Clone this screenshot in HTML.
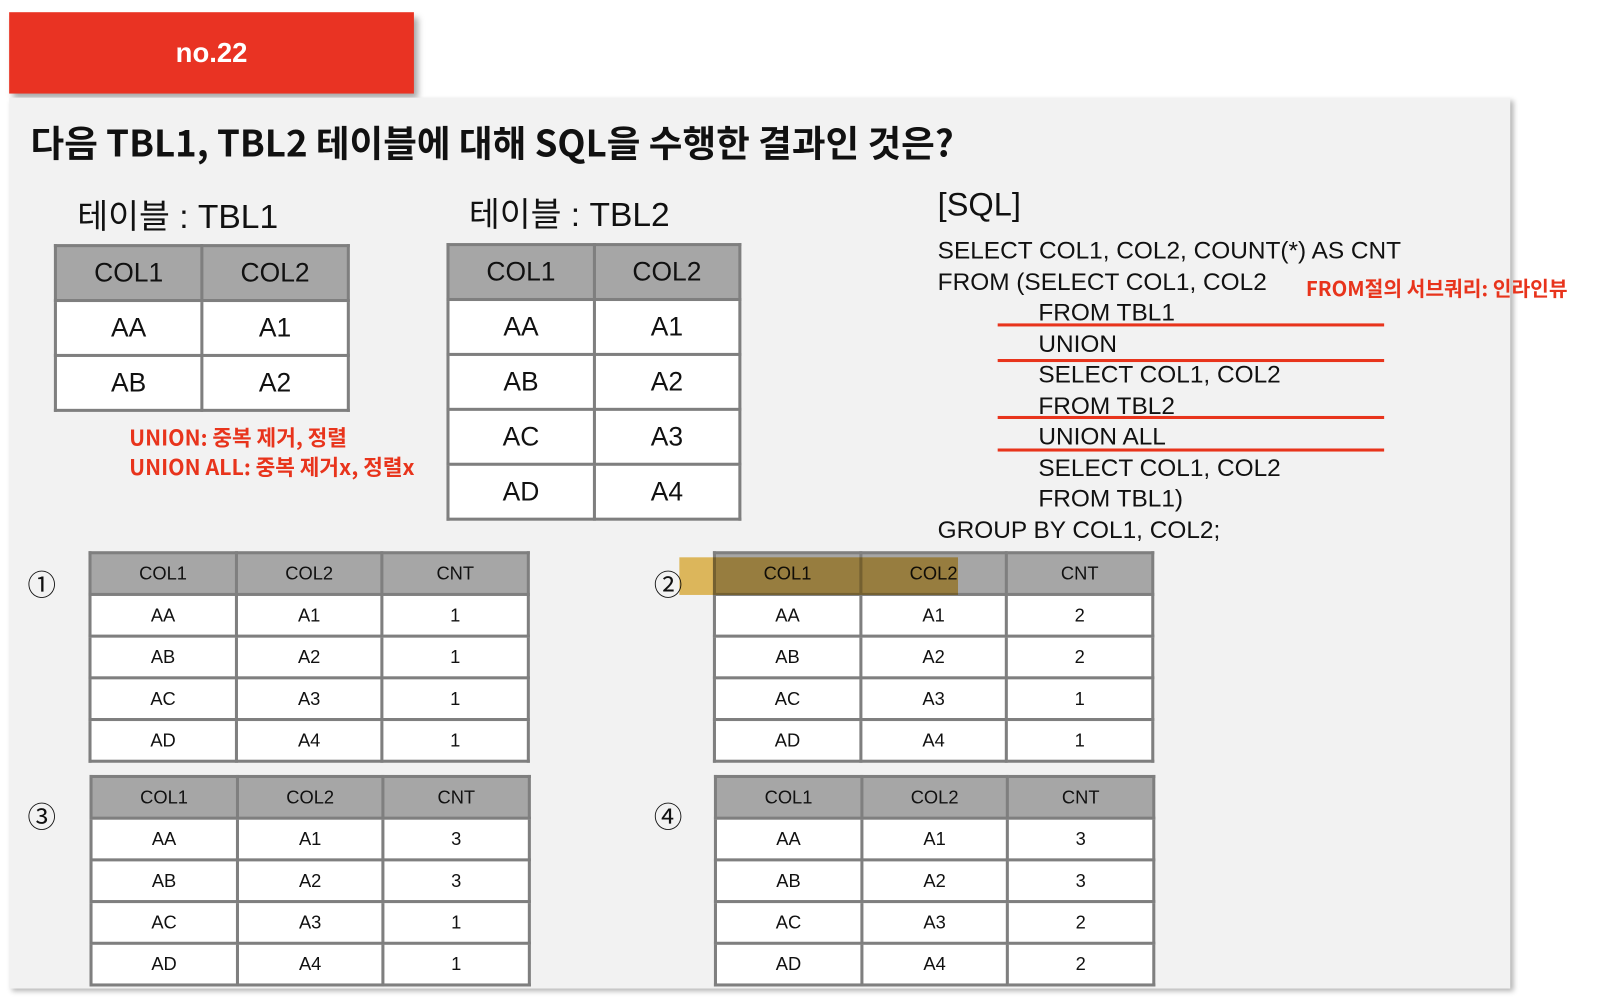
<!DOCTYPE html>
<html><head><meta charset="utf-8">
<style>
html,body{margin:0;padding:0;background:#fff;width:1598px;height:1000px;overflow:hidden;font-family:"Liberation Sans","Noto Sans CJK KR",sans-serif;}
#wrap{position:absolute;left:0;top:0;width:1571px;height:983px;transform:scale(1.017);transform-origin:0 0;}
.abs{position:absolute;}
#badge{left:9px;top:12px;width:398px;height:80px;background:#e93323;box-shadow:4px 5px 6px rgba(0,0,0,.35);color:#fff;font-weight:bold;font-size:27px;display:flex;align-items:center;justify-content:center;}
#panel{left:9px;top:96px;width:1476px;height:876px;background:#f2f2f2;box-shadow:3px 3px 5px rgba(0,0,0,.3);}
.title{left:30px;top:113px;font-size:36px;font-weight:bold;color:#111;white-space:nowrap;font-family:"Noto Sans CJK KR","Liberation Sans",sans-serif;}
.cap{font-size:33px;color:#111;white-space:nowrap;}
table{position:absolute;border-collapse:collapse;table-layout:fixed;}
td{border:3px solid #7f7f7f;text-align:center;color:#111;padding:0;background:#fff;}
tr.h td{background:#a6a6a6;}
.sql{font-size:24px;color:#111;white-space:nowrap;line-height:30.5px;}
.red{color:#e8341c;font-weight:bold;white-space:nowrap;font-family:"Noto Sans CJK KR","Liberation Sans",sans-serif;}
.rl{position:absolute;left:981px;width:380px;height:3px;background:#e8341c;}
.num{font-size:28px;color:#111;}
</style></head><body>
<div id="wrap">
<div id="badge" class="abs">no.22</div>
<div id="panel" class="abs"></div>
<div class="abs title">다음 TBL1, TBL2 테이블에 대해 SQL을 수행한 결과인 것은?</div>
<div class="abs cap" style="left:76px;top:186px">테이블 : TBL1</div>
<div class="abs cap" style="left:461px;top:184px">테이블 : TBL2</div>
<div class="abs red" style="left:127px;top:416px;font-size:21px;line-height:29px">UNION: 중복 제거, 정렬<br>UNION ALL: 중복 제거x, 정렬x</div>
<div class="abs" style="left:922px;top:183px;font-size:32px;color:#111">[SQL]</div>
<div class="abs sql" style="left:922px;top:232px">SELECT COL1, COL2, COUNT(*) AS CNT<br>FROM (SELECT COL1, COL2<br><span style="padding-left:99px">FROM TBL1</span><br><span style="padding-left:99px">UNION</span><br><span style="padding-left:99px">SELECT COL1, COL2</span><br><span style="padding-left:99px">FROM TBL2</span><br><span style="padding-left:99px">UNION ALL</span><br><span style="padding-left:99px">SELECT COL1, COL2</span><br><span style="padding-left:99px">FROM TBL1)</span><br>GROUP BY COL1, COL2;</div>
<div class="rl" style="top:318px"></div>
<div class="rl" style="top:353px"></div>
<div class="rl" style="top:409px"></div>
<div class="rl" style="top:441px"></div>
<div class="abs red" style="left:1284px;top:268px;font-size:20px">FROM절의 서브쿼리: 인라인뷰</div>
<div class="abs num" style="left:27px;top:554px">①</div>
<div class="abs num" style="left:643px;top:554px">②</div>
<div class="abs num" style="left:27px;top:782px">③</div>
<div class="abs num" style="left:643px;top:782px">④</div>
<div class="abs" style="left:668px;top:548px;width:274px;height:37px;background:#e8c060;mix-blend-mode:multiply;z-index:5"></div>
</div>
<script>
const tbl1Rows=[["AA","A1"],["AB","A2"]];
const tbl2Rows=[["AA","A1"],["AB","A2"],["AC","A3"],["AD","A4"]];
const opt1Cnt=[1,1,1,1];
const opt2Cnt=[2,2,1,1];
const opt3Cnt=[3,3,1,1];
const opt4Cnt=[3,3,2,2];
const keys=[["AA","A1"],["AB","A2"],["AC","A3"],["AD","A4"]];
const wrap=document.getElementById('wrap');
function makeTable(name,x,y,w,rowH,headerH,header,rows,fs){
  const t=document.createElement('table');
  
  
  t.style.left=x+'px';t.style.top=y+'px';t.style.width=w+'px';
  const all=[header].concat(rows);
  all.forEach((r,i)=>{
    const tr=document.createElement('tr');
    if(i===0)tr.className='h';
    
    
    tr.style.height=(i===0?headerH:rowH)+'px';
    r.forEach(v=>{
      const td=document.createElement('td');
      
      
      td.style.fontSize=fs+'px';
      td.textContent=v;
      tr.appendChild(td);
    });
    t.appendChild(tr);
  });
  wrap.appendChild(t);
}
makeTable('tbl1-table',53,240,291,54,54,["COL1","COL2"],tbl1Rows,26);
makeTable('tbl2-table',439,239,290,54,54,["COL1","COL2"],tbl2Rows,26);
const H=["COL1","COL2","CNT"];
makeTable('option-1-table',87,542,434,41,41,H,keys.map((k,i)=>[k[0],k[1],opt1Cnt[i]]),18);
makeTable('option-2-table',701,542,434,41,41,H,keys.map((k,i)=>[k[0],k[1],opt2Cnt[i]]),18);
makeTable('option-3-table',88,762,434,41,41,H,keys.map((k,i)=>[k[0],k[1],opt3Cnt[i]]),18);
makeTable('option-4-table',702,762,434,41,41,H,keys.map((k,i)=>[k[0],k[1],opt4Cnt[i]]),18);
</script>
</body></html>
